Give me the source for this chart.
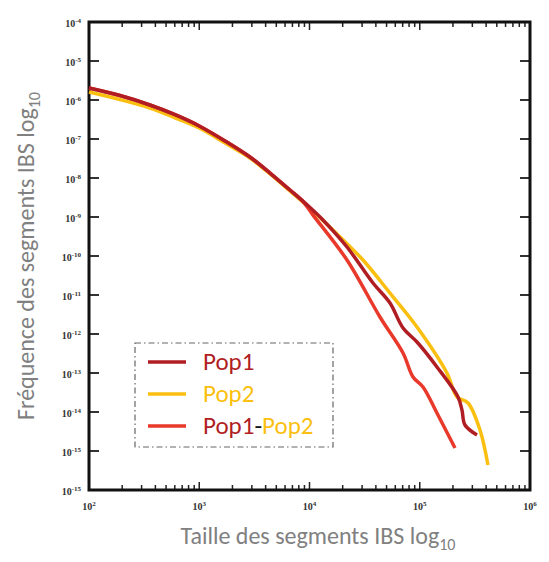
<!DOCTYPE html>
<html>
<head>
<meta charset="utf-8">
<script src="https://cdn.jsdelivr.net/npm/d3@7"></script>
<style>
	body { margin: 0; background: #fff; }
</style>
</head>
<body>
<div id="chart"></div>
<script>
// segment sizes (bp) and frequencies
const pop1Size = [100, 191, 357, 603, 1000, 1714, 2884, 4385, 6650, 10000, 13240, 21880, 37650, 53700, 70500, 94400, 143200, 222300, 241600, 257200, 330500];
const pop1Freq = [2.03e-6, 1.3e-6, 7.45e-7, 4.2e-7, 2.16e-7, 8.9e-8, 3.45e-8, 1.34e-8, 4.92e-9, 1.8e-9, 8.38e-10, 1.7e-10, 2.03e-11, 6.23e-12, 1.43e-12, 6.23e-13, 1.43e-13, 2.43e-14, 1.12e-14, 4.64e-15, 2.57e-15];

const pop2Size = [100, 191, 357, 603, 1000, 1714, 2884, 4385, 6650, 10000, 16320, 30550, 53700, 94400, 176400, 217800, 274000, 351800, 415500];
const pop2Freq = [1.6e-6, 1.03e-6, 6.24e-7, 3.5e-7, 1.91e-7, 7.9e-8, 3.26e-8, 1.27e-8, 4.64e-9, 1.7e-9, 4.64e-10, 7.89e-11, 1.12e-11, 1.51e-12, 1.0e-13, 2.43e-14, 1.7e-14, 3.45e-15, 4.38e-16];

const pop12Size = [100, 191, 357, 603, 1000, 1714, 2884, 4385, 6650, 8500, 10770, 21880, 43550, 70500, 86900, 107000, 143200, 208800];
const pop12Freq = [2.03e-6, 1.3e-6, 7.45e-7, 4.2e-7, 2.16e-7, 8.9e-8, 3.45e-8, 1.34e-8, 4.92e-9, 2.73e-9, 1.12e-9, 7.89e-11, 2.73e-12, 3.26e-13, 7.89e-14, 4.38e-14, 9.42e-15, 1.19e-15];

const xTickValues = [1e2, 1e3, 1e4, 1e5, 1e6];
const xTickLabels = ["2", "3", "4", "5", "6"];
const yTickValues = d3.range(-4, -17, -1).map((e) => Math.pow(10, e));
const yTickLabels = ["-4", "-5", "-6", "-7", "-8", "-9", "-10", "-11", "-12", "-13", "-14", "-15", "-15"];

const seriesNames = ["Pop1", "Pop2", "Pop1-Pop2"];
const colors = { Pop1: "#b01e24", Pop2: "#fbbf10", "Pop1-Pop2": "#e8392a" };

const width = 549;
const height = 562;

const margin = { top: 22, right: 19, bottom: 72, left: 89 };

const svg = d3
	.select("#chart")
	.append("svg")
	.attr("width", width)
	.attr("height", height)
	.style("background", "#fff");

const xScale = d3
	.scaleLog()
	.domain([1e2, 1e6])
	.range([margin.left, width - margin.right]);

const yScale = d3
	.scaleLog()
	.domain([1e-16, 1e-4])
	.range([height - margin.bottom, margin.top]);

const x0 = margin.left;
const x1 = width - margin.right;
const y0 = height - margin.bottom;
const y1 = margin.top;

// minor ticks on x (2..9 per decade)
const minorX = [];
for (let e = 2; e < 6; e++) {
	for (let m = 2; m <= 9; m++) minorX.push(m * Math.pow(10, e));
}

const tickColor = "#222";

// bottom + top ticks, pointing inwards
[y0, y1].forEach((yy, k) => {
	const dir = k === 0 ? -1 : 1;
	svg
		.append("g")
		.selectAll("line")
		.data(minorX)
		.enter()
		.append("line")
		.attr("x1", (d) => xScale(d))
		.attr("x2", (d) => xScale(d))
		.attr("y1", yy)
		.attr("y2", yy + dir * 5)
		.attr("stroke", tickColor)
		.attr("stroke-width", 1.5);
	svg
		.append("g")
		.selectAll("line")
		.data(xTickValues)
		.enter()
		.append("line")
		.attr("x1", (d) => xScale(d))
		.attr("x2", (d) => xScale(d))
		.attr("y1", yy)
		.attr("y2", yy + dir * 8)
		.attr("stroke", tickColor)
		.attr("stroke-width", 1.5);
});

// left + right ticks
[x0, x1].forEach((xx, k) => {
	const dir = k === 0 ? 1 : -1;
	svg
		.append("g")
		.selectAll("line")
		.data(yTickValues)
		.enter()
		.append("line")
		.attr("x1", xx)
		.attr("x2", xx + dir * 10)
		.attr("y1", (d) => yScale(d))
		.attr("y2", (d) => yScale(d))
		.attr("stroke", "#333")
		.attr("stroke-width", 2);
});

// frame
svg
	.append("rect")
	.attr("x", x0)
	.attr("y", y1)
	.attr("width", x1 - x0)
	.attr("height", y0 - y1)
	.attr("fill", "none")
	.attr("stroke", "#111")
	.attr("stroke-width", 3);

// tick labels
const tickFont = "'Liberation Serif', 'DejaVu Serif', serif";

const xLab = svg
	.append("g")
	.selectAll("text")
	.data(xTickValues)
	.enter()
	.append("text")
	.attr("x", (d) => xScale(d))
	.attr("y", y0 + 20)
	.attr("text-anchor", "middle")
	.style("font-family", tickFont)
	.style("font-weight", "bold")
	.style("font-size", "10px")
	.attr("fill", "#333");
xLab.append("tspan").text("10");
xLab
	.append("tspan")
	.attr("dy", -4)
	.style("font-size", "7px")
	.text((d, i) => xTickLabels[i]);

const yLab = svg
	.append("g")
	.selectAll("text")
	.data(yTickValues)
	.enter()
	.append("text")
	.attr("x", x0 - 8)
	.attr("y", (d) => yScale(d) + 5)
	.attr("text-anchor", "end")
	.style("font-family", tickFont)
	.style("font-weight", "bold")
	.style("font-size", "10px")
	.attr("fill", "#333");
yLab.append("tspan").text("10");
yLab
	.append("tspan")
	.attr("dy", -4)
	.style("font-size", "7px")
	.text((d, i) => yTickLabels[i]);

// lines
const line = d3
	.line()
	.x((d) => xScale(d[0]))
	.y((d) => yScale(d[1]))
	.curve(d3.curveCatmullRom.alpha(0.5));

const series = [
	{ name: "Pop2", pts: d3.zip(pop2Size, pop2Freq) },
	{ name: "Pop1-Pop2", pts: d3.zip(pop12Size, pop12Freq) },
	{ name: "Pop1", pts: d3.zip(pop1Size, pop1Freq) },
];

svg
	.append("g")
	.selectAll("path")
	.data(series)
	.enter()
	.append("path")
	.attr("d", (d) => line(d.pts))
	.attr("fill", "none")
	.attr("stroke", (d) => colors[d.name])
	.attr("stroke-width", 3.5)
	.attr("stroke-linejoin", "round");

// axis titles
const titleFont = "Carlito, 'Open Sans', 'Noto Sans', sans-serif";

const xTitle = svg
	.append("text")
	.attr("x", 318)
	.attr("y", 544)
	.attr("text-anchor", "middle")
	.style("font-family", titleFont)
	.style("font-size", "24px")
	.attr("fill", "#808080");
xTitle.append("tspan").text("Taille des segments IBS log");
xTitle.append("tspan").attr("dy", 6).style("font-size", "16px").text("10");

const yTitle = svg
	.append("text")
	.attr("transform", "translate(34, 256) rotate(-90)")
	.attr("text-anchor", "middle")
	.style("font-family", titleFont)
	.style("font-size", "24px")
	.attr("fill", "#808080");
yTitle.append("tspan").text("Fréquence des segments IBS log");
yTitle.append("tspan").attr("dy", 6).style("font-size", "16px").text("10");

// legend
const legend = svg.append("g").attr("transform", "translate(135, 343)");

legend
	.append("rect")
	.attr("width", 198)
	.attr("height", 104)
	.attr("fill", "#fff")
	.attr("stroke", "#666")
	.attr("stroke-width", 1.2)
	.attr("stroke-dasharray", "6,3,1.5,3");

seriesNames.forEach((name, i) => {
	const yy = 19 + i * 32;
	legend
		.append("line")
		.attr("x1", 13)
		.attr("x2", 51)
		.attr("y1", yy)
		.attr("y2", yy)
		.attr("stroke", colors[name])
		.attr("stroke-width", 3.5);

	const t = legend
		.append("text")
		.attr("x", 68)
		.attr("y", yy + 8)
		.style("font-family", titleFont)
		.style("font-size", "25px");
	if (name === "Pop1-Pop2") {
		t.append("tspan").attr("fill", colors.Pop1).text("Pop1");
		t.append("tspan").attr("fill", "#111").text("-");
		t.append("tspan").attr("fill", colors.Pop2).text("Pop2");
	} else {
		t.attr("fill", colors[name]).text(name);
	}
});
</script>
</body>
</html>
